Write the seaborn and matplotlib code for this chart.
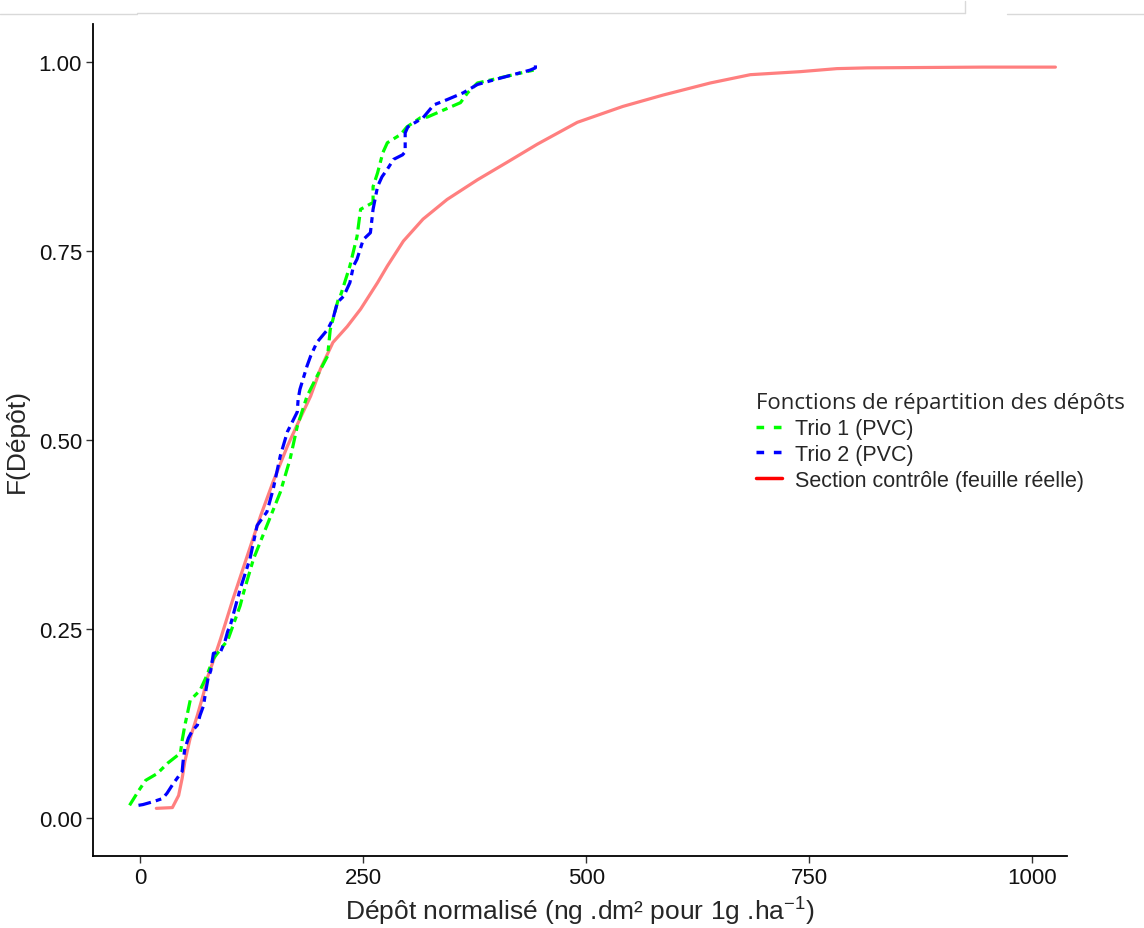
import numpy as np
import pandas as pd
import matplotlib.pyplot as plt
import seaborn as sns
from matplotlib.lines import Line2D

# Fonctions de répartition : dépôt normalisé et F(Dépôt)
trio1_x = [-12, -2, 6, 19, 31, 45, 47, 50, 53, 56, 67, 74, 82, 93, 98, 112, 116, 127, 142,
           157, 168, 176, 187, 198, 210, 213, 222, 224, 235, 243, 247, 261, 261, 266, 272,
           277, 292, 299, 314, 322, 359, 367, 378, 404, 426, 441]
trio1_f = [0.017, 0.036, 0.050, 0.059, 0.073, 0.086, 0.103, 0.123, 0.139, 0.156, 0.169, 0.187,
           0.211, 0.228, 0.235, 0.281, 0.299, 0.343, 0.387, 0.431, 0.475, 0.518, 0.558, 0.584,
           0.611, 0.646, 0.686, 0.689, 0.730, 0.769, 0.805, 0.814, 0.835, 0.853, 0.880, 0.893,
           0.904, 0.914, 0.926, 0.927, 0.946, 0.959, 0.972, 0.979, 0.985, 0.989]

trio2_x = [-2, 3, 15, 25, 30, 36, 39, 47, 48, 50, 54, 58, 64, 67, 71, 73, 76, 79, 82, 90, 95,
           98, 101, 112, 123, 131, 142, 149, 157, 165, 176, 177, 179, 187, 191, 198, 210, 216,
           221, 228, 235, 239, 243, 250, 258, 261, 266, 271, 277, 284, 294, 297, 297, 300, 317,
           329, 344, 362, 378, 396, 418, 437, 443, 443]
trio2_f = [0.017, 0.018, 0.022, 0.026, 0.033, 0.044, 0.049, 0.062, 0.075, 0.092, 0.106, 0.115,
           0.123, 0.136, 0.149, 0.165, 0.185, 0.195, 0.218, 0.220, 0.234, 0.247, 0.255, 0.303,
           0.343, 0.387, 0.405, 0.435, 0.479, 0.511, 0.537, 0.554, 0.567, 0.598, 0.611, 0.629,
           0.646, 0.660, 0.682, 0.690, 0.708, 0.730, 0.739, 0.765, 0.774, 0.805, 0.835, 0.848,
           0.858, 0.871, 0.877, 0.881, 0.906, 0.914, 0.926, 0.943, 0.950, 0.959, 0.970, 0.976,
           0.983, 0.989, 0.992, 0.999]

controle_x = [18, 36, 43, 47, 50, 56, 64, 71, 75, 81, 90, 104, 120, 135, 149, 165, 179, 191,
              202, 216, 232, 247, 266, 277, 295, 317, 344, 378, 411, 445, 490, 541, 586,
              639, 684, 740, 781, 815, 945, 1026]
controle_f = [0.013, 0.014, 0.030, 0.053, 0.075, 0.106, 0.136, 0.165, 0.185, 0.205, 0.237,
              0.290, 0.347, 0.400, 0.445, 0.492, 0.528, 0.558, 0.594, 0.629, 0.650, 0.673,
              0.708, 0.730, 0.763, 0.792, 0.818, 0.844, 0.867, 0.891, 0.920, 0.941,
              0.956, 0.972, 0.983, 0.987, 0.991, 0.992, 0.993, 0.993]

series = ["Trio 1 (PVC)", "Trio 2 (PVC)", "Section contrôle (feuille réelle)"]
couleurs = ["#00ff00", "#0000ff", "#ff0000"]
xticks = [0, 250, 500, 750, 1000]
yticks = [0.0, 0.25, 0.50, 0.75, 1.00]
ytick_labels = ["0.00", "0.25", "0.50", "0.75", "1.00"]

df = pd.concat([
    pd.DataFrame({"depot": trio1_x, "F": trio1_f, "serie": series[0]}),
    pd.DataFrame({"depot": trio2_x, "F": trio2_f, "serie": series[1]}),
    pd.DataFrame({"depot": controle_x, "F": controle_f, "serie": series[2]}),
])

sns.set_theme(style="ticks")
plt.rcParams["font.family"] = ["Liberation Sans", "DejaVu Sans"]
plt.rcParams["mathtext.fontset"] = "custom"
plt.rcParams["mathtext.rm"] = "Liberation Sans"
plt.rcParams["mathtext.it"] = "Liberation Sans"

fig = plt.figure(figsize=(11.44, 9.29), dpi=100)
ax = fig.add_axes([93 / 1144, 72 / 929, (1067 - 93) / 1144, (904 - 72) / 929])

# courbe contrôle en dessous, puis les trios
sns.lineplot(data=df[df.serie == series[2]], x="depot", y="F", color=couleurs[2], alpha=0.5,
             linewidth=2.3, estimator=None, sort=False, ax=ax, legend=False)
sns.lineplot(data=df[df.serie == series[0]], x="depot", y="F", color=couleurs[0],
             linewidth=2.3, estimator=None, sort=False, ax=ax, legend=False)
sns.lineplot(data=df[df.serie == series[1]], x="depot", y="F", color=couleurs[1],
             linewidth=2.3, estimator=None, sort=False, ax=ax, legend=False)
ax.lines[1].set_dashes([4, 1.6, 1.8, 1.6])
ax.lines[2].set_dashes([4, 1.6, 1.8, 1.6])

ax.set_xlim(-53, 1039)
ax.set_ylim(-0.05, 1.05)
ax.set_xticks(xticks)
ax.set_yticks(yticks)
ax.set_yticklabels(ytick_labels)
ax.tick_params(labelsize=16, length=5, width=1, color="#333333", labelcolor="#111111", pad=3)
sns.despine(ax=ax)
for s in ["left", "bottom"]:
    ax.spines[s].set_linewidth(1.3)
    ax.spines[s].set_color("black")

ax.set_xlabel("Dépôt normalisé (ng .dm² pour 1g .ha$^{-1}$)", fontsize=19, labelpad=5)
ax.set_ylabel("F(Dépôt)", fontsize=19, labelpad=7)

handles = [Line2D([], [], color=c, linewidth=2.5, dashes=(2.2, 2.8) if i < 2 else (None, None))
           for i, c in enumerate(couleurs)]
leg = fig.legend(handles, series, loc="upper left", bbox_to_anchor=(737 / 1144, 1 - 374 / 929),
                 frameon=False, fontsize=15.5, handlelength=1.2, handletextpad=0.6,
                 labelspacing=0.22, title="Fonctions de répartition des dépôts",
                 title_fontproperties={"family": "Open Sans", "size": 16},
                 alignment="left")

# traits gris de la capture d'écran en haut de l'image
for (x0, x1, y) in [(0, 137, 15), (137, 965, 14), (1007, 1144, 15)]:
    fig.add_artist(Line2D([x0 / 1144, x1 / 1144], [1 - y / 929, 1 - y / 929],
                          color="#d9d9d9", linewidth=1))
fig.add_artist(Line2D([965 / 1144, 965 / 1144], [1 - 2 / 929, 1 - 14 / 929],
                      color="#d9d9d9", linewidth=1))

fig.savefig("out.png", dpi=100)
